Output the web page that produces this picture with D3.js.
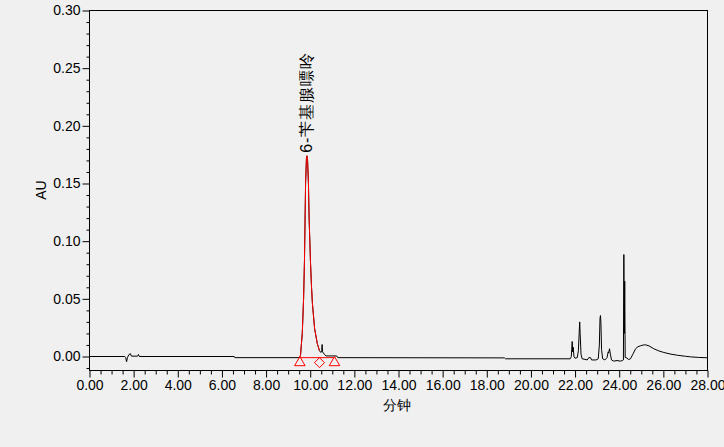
<!DOCTYPE html>
<html>
<head>
<meta charset="utf-8">
<script src="https://cdn.jsdelivr.net/npm/d3@7"></script>
<style>
  html, body { margin: 0; padding: 0; background: #f0f0f0; }
  svg { display: block; }
  text { font-family: "Liberation Sans", Arial, sans-serif; }
</style>
</head>
<body>
<svg id="chart" width="724" height="447"></svg>
<script>
// ---------- data ----------
const xTickValues = [0, 2, 4, 6, 8, 10, 12, 14, 16, 18, 20, 22, 24, 26, 28];
const yTickValues = [0, 0.05, 0.10, 0.15, 0.20, 0.25, 0.30];
const xAxisTitle = "分钟";
const yAxisTitle = "AU";
const peakName = "6-苄基腺嘌呤";

// chromatogram trace (minutes, AU)
const traceTime = [
  0.00, 1.60, 1.64, 1.68, 1.72, 1.78, 1.85, 1.90, 2.18, 2.22, 2.26, 6.56, 6.58,
  9.50, 9.56, 9.64, 9.70, 9.74, 9.79, 9.83, 9.85, 9.88, 9.92, 9.95, 10.01, 10.06,
  10.10, 10.20, 10.32, 10.42, 10.48, 10.52, 10.54, 10.56, 10.66, 10.72, 11.20, 11.25,
  18.80, 18.85, 21.78, 21.83, 21.87, 21.89, 21.915, 21.95, 22.00, 22.10, 22.15, 22.19,
  22.21, 22.23, 22.27, 22.32, 22.45, 22.55, 22.62, 22.70, 22.75, 22.95, 23.05, 23.10,
  23.13, 23.15, 23.17, 23.20, 23.25, 23.35, 23.45, 23.50, 23.52, 23.56, 23.60, 23.65,
  23.75, 23.90, 24.05, 24.15, 24.19, 24.21, 24.23, 24.25, 24.27, 24.30, 24.43, 24.51,
  24.62, 24.74, 24.85, 24.97, 25.10, 25.20, 25.35, 25.57, 25.80, 26.02, 26.30, 26.63,
  27.00, 27.23, 27.60, 28.00
];
const traceAU = [
  0.0000, 0.0000, -0.0010, -0.0045, -0.0010, 0.0015, 0.0025, 0.0003, 0.0003, 0.0018, 0.0000, 0.0000, -0.0010,
  -0.0010, 0.0010, 0.0200, 0.0500, 0.0830, 0.1500, 0.1720, 0.1740, 0.1700, 0.1500, 0.1200, 0.0830, 0.0600,
  0.0460, 0.0240, 0.0113, 0.0050, 0.0035, 0.0050, 0.0104, 0.0040, 0.0015, 0.0005, 0.0005, -0.0010,
  -0.0012, -0.0020, -0.0020, 0.0000, 0.0130, 0.0040, 0.0081, 0.0000, -0.0015, -0.0010, 0.0050, 0.0220,
  0.0300, 0.0200, 0.0020, -0.0020, -0.0025, -0.0030, -0.0010, -0.0010, -0.0030, -0.0030, -0.0020, 0.0100,
  0.0330, 0.0355, 0.0300, 0.0060, -0.0020, -0.0030, -0.0010, 0.0040, 0.0030, 0.0067, 0.0020, -0.0030,
  -0.0040, -0.0035, -0.0040, -0.0035, -0.0030, 0.0884, 0.0200, 0.0653, -0.0010, -0.0008, -0.0026, -0.0020,
  0.0020, 0.0067, 0.0085, 0.0093, 0.0100, 0.0101, 0.0092, 0.0067, 0.0048, 0.0035, 0.0022, 0.0011,
  0.0002, -0.0003, -0.0008, -0.0011
];

// integrated peak: start, end (diamond) and baseline end
const peakStart = 9.53;
const peakApexTime = 9.85;
const peakApexAU = 0.174;
const peakEnd = 10.42;
const baselineEnd = 11.10;
const baselineAU = -0.001;
const startMarks = [9.53, 11.10];  // triangles
const endMarks = [10.42];          // diamond

// ---------- layout ----------
const svg = d3.select("#chart");
const L = 89.5, R = 707.5, T = 10.5, B = 370.5;
const x = d3.scaleLinear().domain([0, 28]).range([L, R]);
const pxPerAU = (356.5 - T) / 0.30;
const y = d3.scaleLinear().domain([-(B - 356.5) / pxPerAU, 0.30]).range([B, T]);

// frame
svg.append("rect")
  .attr("x", L).attr("y", T).attr("width", R - L).attr("height", B - T)
  .attr("fill", "none").attr("stroke", "#000").attr("stroke-width", 1);

// y axis (major + minor)
const yMinor = d3.range(-1, 31).map(i => i / 100).filter(v => !yTickValues.some(t => Math.abs(t - v) < 1e-9));
svg.append("g").attr("transform", `translate(${L},0)`)
  .call(d3.axisLeft(y).tickValues(yMinor).tickSize(3).tickFormat(""))
  .call(g => g.select(".domain").remove());
svg.append("g").attr("transform", `translate(${L},0)`)
  .call(d3.axisLeft(y).tickValues(yTickValues).tickSize(7).tickPadding(2).tickFormat(d3.format(".2f")))
  .call(g => g.select(".domain").remove())
  .call(g => g.selectAll("text").attr("font-size", 14).attr("fill", "#000")
      .attr("font-family", '"Liberation Sans", Arial, sans-serif'));

// x axis (major + minor)
const xMinor = d3.range(0, 57).map(i => i * 0.5).filter(v => v % 2 !== 0);
svg.append("g").attr("transform", `translate(0,${B})`)
  .call(d3.axisBottom(x).tickValues(xMinor).tickSize(4).tickFormat(""))
  .call(g => g.select(".domain").remove());
svg.append("g").attr("transform", `translate(0,${B})`)
  .call(d3.axisBottom(x).tickValues(xTickValues).tickSize(7).tickPadding(3).tickFormat(d3.format(".2f")))
  .call(g => g.select(".domain").remove())
  .call(g => g.selectAll("text").attr("font-size", 14).attr("fill", "#000")
      .attr("font-family", '"Liberation Sans", Arial, sans-serif'));

// axis titles
svg.append("text")
  .attr("transform", `translate(46,190) rotate(-90)`)
  .attr("text-anchor", "middle")
  .attr("font-size", 14)
  .text(yAxisTitle);
svg.append("text")
  .attr("x", 397).attr("y", 410)
  .attr("text-anchor", "middle")
  .attr("font-size", 14)
  .attr("font-family", '"Noto Sans CJK SC", sans-serif')
  .text(xAxisTitle);

// trace
const pts = traceTime.map((t, i) => [t, traceAU[i]]);
const line = d3.line().x(d => x(d[0])).y(d => y(d[1]));

// red integrated baseline
svg.append("line")
  .attr("x1", x(peakStart)).attr("x2", x(baselineEnd))
  .attr("y1", y(baselineAU)).attr("y2", y(baselineAU))
  .attr("stroke", "#ff0000").attr("stroke-width", 1);

svg.append("path")
  .datum(pts)
  .attr("d", line)
  .attr("fill", "none").attr("stroke", "#000").attr("stroke-width", 1);

// red peak portion
svg.append("path")
  .datum(pts.filter(d => d[0] >= peakStart - 0.04 && d[0] <= peakEnd + 0.001))
  .attr("d", line)
  .attr("fill", "none").attr("stroke", "#ff0000").attr("stroke-width", 1);

// markers
const tri = d3.symbol().type(d3.symbolTriangle).size(48);
svg.selectAll(".tri").data(startMarks).join("path")
  .attr("class", "tri")
  .attr("d", tri)
  .attr("transform", d => `translate(${x(d)},${y(baselineAU) + 5})`)
  .attr("fill", "none").attr("stroke", "#ff0000").attr("stroke-width", 1);
svg.selectAll(".dia").data(endMarks).join("path")
  .attr("class", "dia")
  .attr("d", "M0,-5L5,0L0,5L-5,0Z")
  .attr("transform", d => `translate(${x(d)},${y(baselineAU) + 5})`)
  .attr("fill", "none").attr("stroke", "#ff0000").attr("stroke-width", 1);

// peak name
svg.append("text")
  .attr("transform", `translate(${x(peakApexTime) + 5},${y(peakApexAU) - 3}) rotate(-90)`)
  .attr("text-anchor", "start")
  .attr("font-size", 16)
  .attr("letter-spacing", 1)
  .attr("font-family", '"Noto Sans CJK SC", sans-serif')
  .text(peakName);
</script>
</body>
</html>
